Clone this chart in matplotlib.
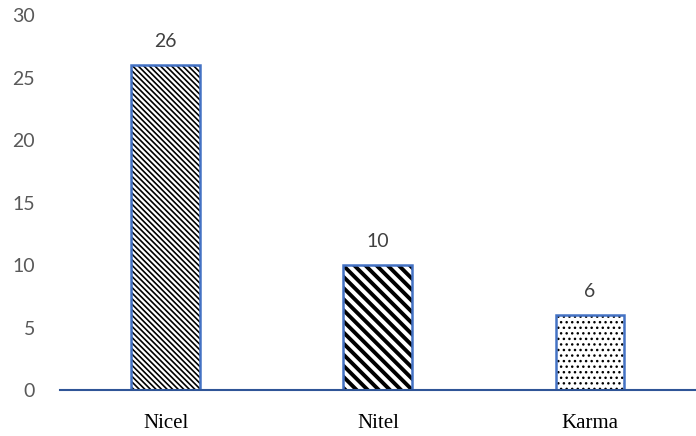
import matplotlib
matplotlib.use("Agg")
import matplotlib.pyplot as plt

# ── Data ────────────────────────────────────────────────────────────
categories = ["Nicel", "Nitel", "Karma"]
counts = [26, 10, 6]
hatches = ["\\\\\\\\\\\\", "\\\\\\", "..."]
hatch_widths = [1.2, 2.8, 1.0]
y_ticks = [0, 5, 10, 15, 20, 25, 30]

fig = plt.figure(figsize=(6.96, 4.36), dpi=100)
ax = fig.add_axes([0.086, 0.1055, 0.914, 0.86])

x = range(len(categories))
for i, (val, h, hw) in enumerate(zip(counts, hatches, hatch_widths)):
    # hatch drawn in black, outline drawn separately in blue
    with plt.rc_context({"hatch.linewidth": hw, "hatch.color": "black"}):
        ax.bar(i, val, width=0.325, color="white", edgecolor="black",
               hatch=h, linewidth=0, zorder=2)
    ax.bar(i, val, width=0.325, fill=False, edgecolor="#4472C4",
           linewidth=1.8, zorder=3)
    ax.annotate(str(val), (i, val), xytext=(0, 11), textcoords="offset points",
                ha="center", va="bottom", fontsize=14, family="Lato",
                color="#404040")

ax.set_xlim(-0.5, 2.5)
ax.set_ylim(0, 30)
ax.set_yticks(y_ticks)
ax.set_xticks(list(x))
ax.set_xticklabels(categories, family="Liberation Serif", fontsize=15,
                   color="black")
ax.tick_params(axis="x", length=0, pad=17)
ax.tick_params(axis="y", length=0, pad=18, labelsize=14, labelcolor="#595959")
for lbl in ax.get_yticklabels():
    lbl.set_family("Lato")

for side in ["top", "right", "left"]:
    ax.spines[side].set_visible(False)
ax.spines["bottom"].set_color("#2F5597")
ax.spines["bottom"].set_linewidth(1.5)
ax.spines["bottom"].set_zorder(4)

fig.savefig("out.png", dpi=100)
